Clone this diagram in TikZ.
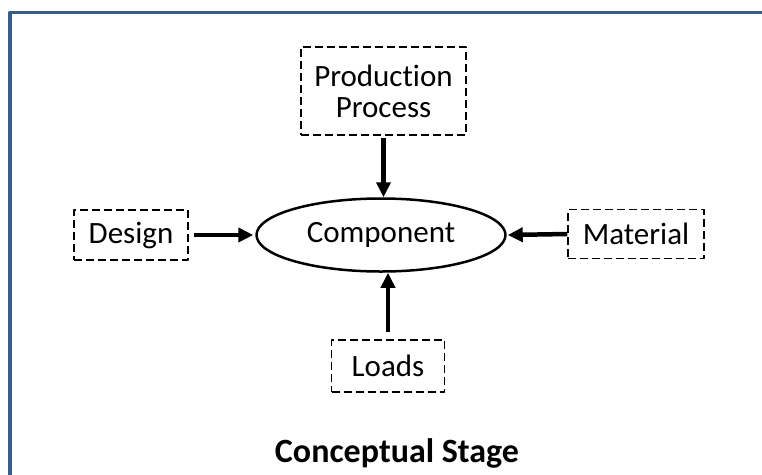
\documentclass[tikz,border=0pt]{standalone}
\usepackage{fontspec}
\setmainfont{Carlito}[Ligatures=NoCommon]
\usetikzlibrary{arrows.meta,shapes.geometric}
\definecolor{framecol}{RGB}{56,93,138}
\tikzset{
	box/.style={draw, dash pattern=on 8pt off 4pt, line width=1.2pt, inner sep=0pt, align=center},
	arr/.style={line width=4.5pt, -{Triangle[length=15pt,width=14pt]}},
}
\begin{document}
\begin{tikzpicture}[x=1pt, y=-1pt, font=\fontsize{31}{31}\selectfont, line join=round]
	\useasboundingbox (0,0) rectangle (762,474);
	\fill[white] (0,0) rectangle (762,474);
	\clip (0,0) rectangle (762,474);
	\draw[framecol, line width=3.5pt] (10,490) |- (780,12.5);
	\node[draw, ellipse, line width=2.5pt, minimum width=249pt, minimum height=73pt, inner sep=0pt] (comp) at (381,235) {Component};
	\node[box, minimum width=165pt, minimum height=88pt] (prod) at (383.5,91) {Production\\Process};
	\node[box, minimum width=114pt, minimum height=50pt] (design) at (131,235) {Design};
	\node[box, minimum width=136pt, minimum height=49pt] (mat) at (636,234) {Material};
	\node[box, minimum width=113pt, minimum height=52pt] (loads) at (388,366) {Loads};
	\node[font=\fontsize{34}{36}\selectfont\bfseries] (title) at (397,453) {Conceptual Stage};
	% arrows into the component
	\draw[arr, shorten <=2pt] (prod.south) -- (prod.south |- comp.north);
	\draw[arr, shorten <=5pt, shorten >=2pt] (design.east) -- (comp.west);
	\draw[arr, shorten >=1pt] (mat.west) -- (comp.east);
	\draw[arr, shorten <=7pt] (loads.north) -- (loads.north |- comp.south);
\end{tikzpicture}
\end{document}
